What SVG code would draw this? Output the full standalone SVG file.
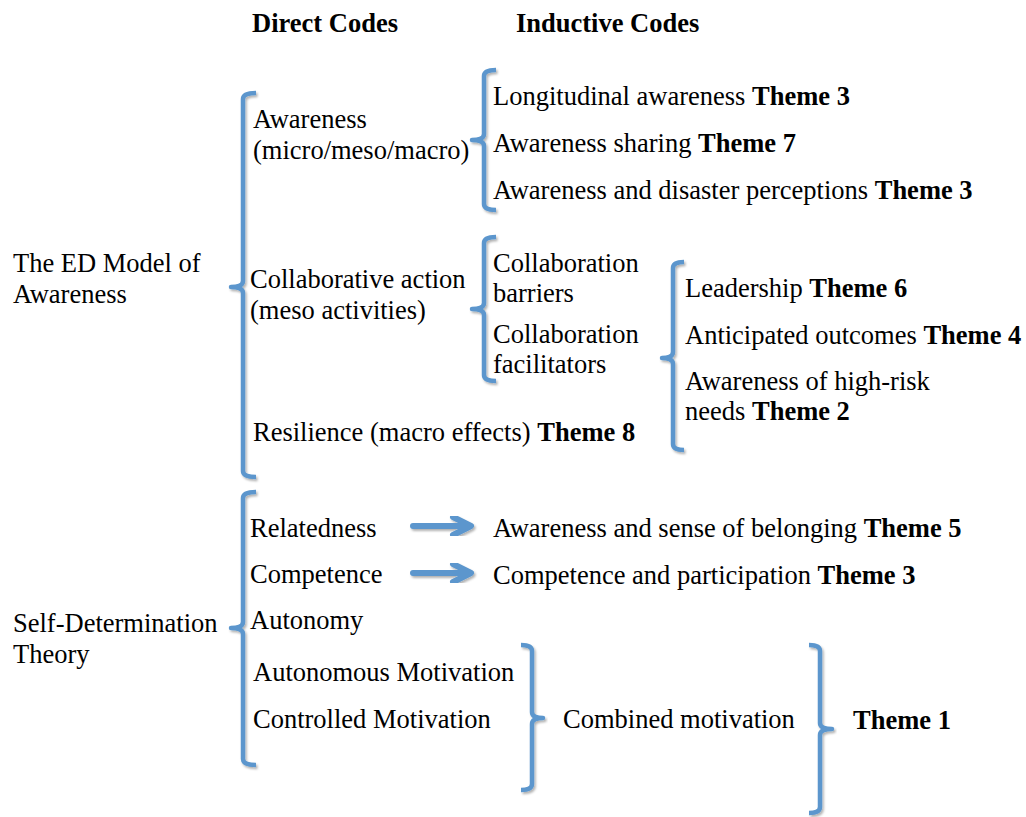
<svg xmlns="http://www.w3.org/2000/svg" width="1026" height="817" viewBox="0 0 1026 817" font-family="'Liberation Serif', 'Times New Roman', 'DejaVu Serif', serif">
<defs>
<filter id="sh" x="-20%" y="-5%" width="140%" height="110%">
<feDropShadow dx="1.5" dy="2" stdDeviation="1.2" flood-color="#000" flood-opacity="0.3"/>
</filter>
<style>
text{font-family:'Liberation Serif','Times New Roman','DejaVu Serif',serif;font-size:26.5px;fill:#000}
.b{font-weight:bold}
.br{fill:none;stroke:#5B96CD;stroke-width:4.5;stroke-linejoin:round;stroke-linecap:butt;filter:url(#sh)}
.ar{fill:none;stroke:#5B96CD;stroke-width:6;stroke-linejoin:round;stroke-linecap:round;filter:url(#sh)}
</style>
</defs>
<rect width="1026" height="817" fill="#fff"/>
<g id="headers">
<text class="b" x="252" y="32">Direct Codes</text>
<text class="b" x="516" y="32">Inductive Codes</text>
</g>
<g id="connectors">
<path class="br" d="M256 93 Q243 93 243 99 L243 281 Q243 287 231 287 Q243 287 243 293 L243 471 Q243 477 256 477"/>
<path class="br" d="M256 492 Q243 492 243 498 L243 622 Q243 628 231 628 Q243 628 243 634 L243 759 Q243 765 256 765"/>
<path class="br" d="M496 70 Q484 70 484 76 L484 134 Q484 140 472 140 Q484 140 484 146 L484 204 Q484 210 496 210"/>
<path class="br" d="M496 237 Q484 237 484 243 L484 303 Q484 309 472 309 Q484 309 484 315 L484 375 Q484 381 496 381"/>
<path class="br" d="M684 262 Q673 262 673 268 L673 352 Q673 358 662 358 Q673 358 673 364 L673 444 Q673 450 684 450"/>
<path class="br" d="M521 645 Q532 645 532 651 L532 712 Q532 718 543 718 Q532 718 532 724 L532 784 Q532 790 521 790"/>
<path class="br" d="M809 645 Q820 645 820 651 L820 723 Q820 729 832 729 Q820 729 820 735 L820 807 Q820 813 809 813"/>
<path class="ar" d="M413 526 L470 526 M453 517 L471 526 L453 535"/>
<path class="ar" d="M413 573 L470 573 M453 564 L471 573 L453 582"/>
</g>
<g id="ed-model">
<text x="13" y="272">The ED Model of</text>
<text x="13" y="303">Awareness</text>
</g>
<g id="sdt">
<text x="13" y="632">Self-Determination</text>
<text x="13" y="663">Theory</text>
</g>
<g id="awareness">
<text x="253" y="128">Awareness</text>
<text x="253" y="159">(micro/meso/macro)</text>
</g>
<g id="awareness-codes">
<text x="493" y="105">Longitudinal awareness <tspan class="b">Theme 3</tspan></text>
<text x="493" y="152">Awareness sharing <tspan class="b">Theme 7</tspan></text>
<text x="493" y="199">Awareness and disaster perceptions <tspan class="b">Theme 3</tspan></text>
</g>
<g id="collaborative-action">
<text x="250" y="288">Collaborative action</text>
<text x="250" y="319">(meso activities)</text>
</g>
<g id="collaboration-codes">
<text x="493" y="272">Collaboration</text>
<text x="493" y="302">barriers</text>
<text x="493" y="343">Collaboration</text>
<text x="493" y="373">facilitators</text>
</g>
<g id="collaboration-themes">
<text x="685" y="297">Leadership <tspan class="b">Theme 6</tspan></text>
<text x="685" y="344">Anticipated outcomes <tspan class="b">Theme 4</tspan></text>
<text x="685" y="390">Awareness of high-risk</text>
<text x="685" y="420">needs <tspan class="b">Theme 2</tspan></text>
</g>
<g id="resilience">
<text x="253" y="441">Resilience (macro effects) <tspan class="b">Theme 8</tspan></text>
</g>
<g id="relatedness">
<text x="250" y="537">Relatedness</text>
</g>
<g id="belonging">
<text x="493" y="537">Awareness and sense of belonging <tspan class="b">Theme 5</tspan></text>
</g>
<g id="competence">
<text x="250" y="583">Competence</text>
</g>
<g id="participation">
<text x="493" y="584">Competence and participation <tspan class="b">Theme 3</tspan></text>
</g>
<g id="autonomy">
<text x="250" y="629">Autonomy</text>
</g>
<g id="motivations">
<text x="253" y="681">Autonomous Motivation</text>
<text x="253" y="728">Controlled Motivation</text>
</g>
<g id="combined">
<text x="563" y="728">Combined motivation</text>
</g>
<g id="theme1">
<text class="b" x="853" y="729">Theme 1</text>
</g>
</svg>
